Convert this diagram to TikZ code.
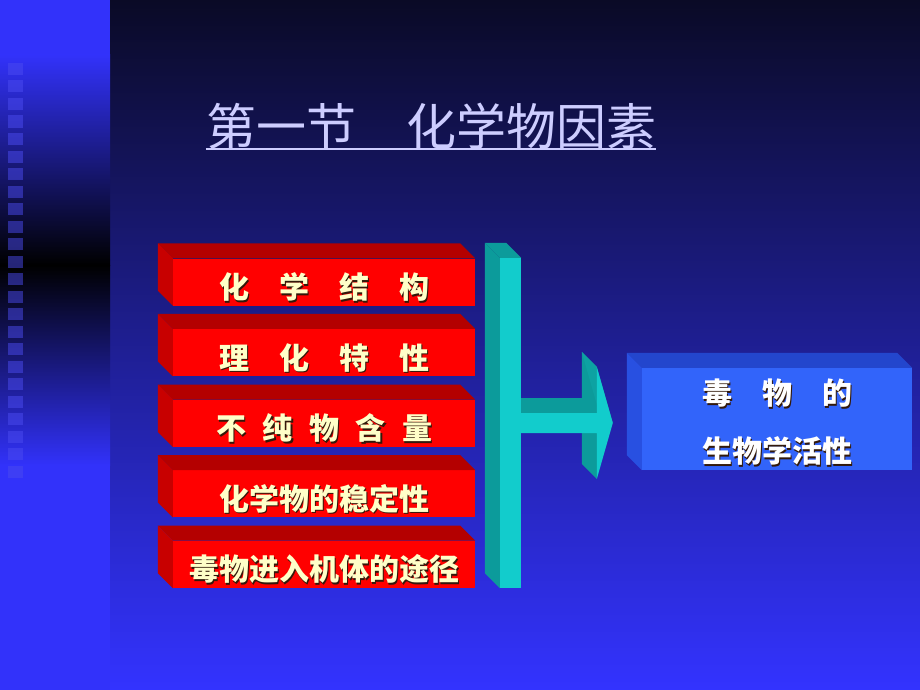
\documentclass[tikz,border=0pt]{standalone}
\usepackage{fontspec}
\newfontfamily\cjk{Noto Sans CJK SC}
\usetikzlibrary{positioning, calc}

\definecolor{bgtop}{RGB}{10,10,38}
\definecolor{bgmid}{RGB}{30,30,150}
\definecolor{bgbot}{RGB}{51,51,255}
\definecolor{stripblue}{RGB}{50,50,250}
\definecolor{sqblue}{RGB}{75,75,240}
\definecolor{titlecol}{RGB}{205,205,255}
\definecolor{redfront}{RGB}{255,0,0}
\definecolor{redtop}{RGB}{180,0,0}
\definecolor{redside}{RGB}{200,0,0}
\definecolor{cream}{RGB}{255,255,200}
\definecolor{tealfront}{RGB}{18,204,204}
\definecolor{tealdark}{RGB}{12,155,155}
\definecolor{bluefront}{RGB}{50,100,250}
\definecolor{bluetop}{RGB}{35,70,205}
\definecolor{blueside}{RGB}{40,80,225}
\definecolor{txtshade}{RGB}{50,25,10}

\newcommand\shtxt[1]{\leavevmode\rlap{\kern1.5pt\raisebox{-1.5pt}{\color{txtshade}#1}}#1}
\newcommand\extrude[3]{%
  \fill[#2] (#1.north west) -- ++(-15,-15) -- ($(#1.north east)+(-15,-15)$) -- (#1.north east) -- cycle;
  \fill[#3] (#1.north west) -- ++(-15,-15) -- ($(#1.south west)+(-15,-15)$) -- (#1.south west) -- cycle;}

\begin{document}
\begin{tikzpicture}
[x=1pt,y=-1pt,
                    node distance=70.6pt,on grid,
                    redbox/.style={fill=redfront, minimum width=302pt, minimum height=47pt,
                      inner sep=0pt, text height=33pt, text depth=0pt, text=cream,
                      font=\cjk\bfseries\fontsize{30}{36}\selectfont}]
\useasboundingbox (0,0) rectangle (920,690);
\shade[top color=bgtop, middle color=bgmid, bottom color=bgbot] (110,0) rectangle (920,690);
\fill[stripblue] (0,0) rectangle (110,690);
\shade[top color=stripblue, bottom color=black] (0,55) rectangle (110,265);
\shade[top color=black, bottom color=stripblue] (0,265) rectangle (110,465);
\foreach \i in {0,...,23}
	\fill[sqblue, opacity=0.5] (8,63+17.5*\i) rectangle ++(15,12);

\node[anchor=base, inner sep=0pt, text=titlecol, font=\cjk\fontsize{50}{60}\selectfont]
	(title) at (431,145) {第一节　化学物因素};
\draw[titlecol, line width=2pt] ([yshift=-4pt]title.base west) -- ([yshift=-4pt]title.base east);

\node[redbox] (b1) at (324,282) {\shtxt{化\quad 学\quad 结\quad 构}};
\node[redbox, below=of b1] (b2) {\shtxt{理\quad 化\quad 特\quad 性}};
\node[redbox, below=of b2] (b3) {\shtxt{不\hspace{0.55em}纯\hspace{0.55em}物\hspace{0.55em}含\hspace{0.55em}量}};
\node[redbox, below=of b3] (b4) {\shtxt{化学物的稳定性}};
\node[redbox, below=of b4] (b5) {\shtxt{毒物进入机体的途径}};
\foreach \b in {b1,b2,b3,b4,b5}
	\extrude{\b}{redtop}{redside};

\node[fill=tealfront, minimum width=21pt, minimum height=330pt, inner sep=0pt] (bar) at (510.5,423) {};
\extrude{bar}{tealdark}{tealdark};

\node[fill=bluefront, minimum width=270pt, minimum height=102pt, inner sep=0pt, text=white,
	align=center, font=\cjk\bfseries\fontsize{30}{58}\selectfont]
	(target) at (777,419) {\rule{0pt}{34pt}\shtxt{毒\quad 物\quad 的}\\\shtxt{生物学活性}};
\extrude{target}{bluetop}{blueside};

\coordinate (tip) at ($(target.west |- bar.east)+(-29,0)$);
\begin{scope}[shift={(tip)}]
\fill[tealdark] (-31,-71) -- (-16,-56) -- (-16,56) -- (-31,41) -- cycle;
\fill[tealdark!85!tealfront] (-31,-71) -- (-15,-15) -- (0,0) -- (-16,-56) -- cycle;
\fill[tealdark] (bar.east |- 0,-25) -- (-31,-25) -- (-16,-10) -- (bar.east |- 0,-10) -- cycle;
\fill[tealfront] (bar.east |- 0,-10) -- (-16,-10) -- (-16,-56) -- (0,0)
	-- (-16,56) -- (-16,10) -- (bar.east |- 0,10) -- cycle;
\end{scope}
\end{tikzpicture}
\end{document}
